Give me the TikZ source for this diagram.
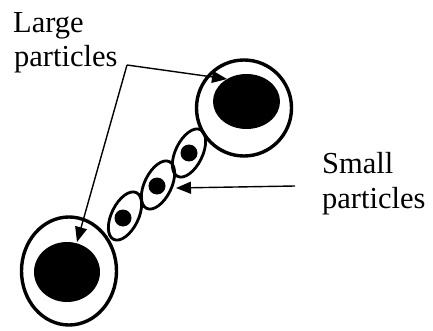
\documentclass[tikz,border=0pt]{standalone}
\usepackage{fontspec}
\setmainfont{Liberation Serif}
\usetikzlibrary{shapes.geometric,arrows.meta}
\begin{document}
\begin{tikzpicture}[x=1pt,y=-1pt,
  bigring/.style={draw,ellipse,line width=3.4pt,inner sep=0pt},
  core/.style={fill=black,ellipse,inner sep=0pt},
  smallring/.style={draw,ellipse,line width=2.8pt,inner sep=0pt,rotate=64,minimum width=52pt,minimum height=27pt},
  dot/.style={fill=black,circle,inner sep=0pt,minimum size=17pt},
  lbl/.style={font=\fontsize{30.5}{34}\selectfont,inner sep=0pt,anchor=base west},
  pointer/.style={line width=1.4pt,-{Triangle[length=15pt,width=12pt]}}]
\useasboundingbox (0,0) rectangle (433,331);
% large particles
\node[bigring,minimum width=95pt,minimum height=96pt] (L1) at (244,108) {};
\node[core,minimum width=67pt,minimum height=55pt] (C1) at (246.5,101.5) {};
\node[bigring,minimum width=95pt,minimum height=108pt] (L2) at (69,271) {};
\node[core,minimum width=66pt,minimum height=60pt] (C2) at (67,272) {};
% small particles
\node[smallring] (S1) at (189,153) {};
\node[dot] (D1) at (189,153) {};
\node[smallring] (S2) at (158,185) {};
\node[dot] (D2) at (157,186) {};
\node[smallring] (S3) at (125,216) {};
\node[dot] (D3) at (123,218) {};
% labels
\node[lbl] (tl1) at (13,33) {Large};
\node[lbl] (tl2) at (14,67) {particles};
\node[lbl] (ts1) at (322,174) {Small};
\node[lbl] (ts2) at (322,208) {particles};
% pointers
\coordinate (j) at (127,65);
\coordinate (t1) at (227,79);
\coordinate (t2) at (77,242);
\coordinate (s0) at (295,186);
\coordinate (st) at (176,188);
\draw[pointer] (j) -- (t1);
\draw[pointer] (j) -- (t2);
\draw[pointer] (s0) -- (st);
\end{tikzpicture}
\end{document}
